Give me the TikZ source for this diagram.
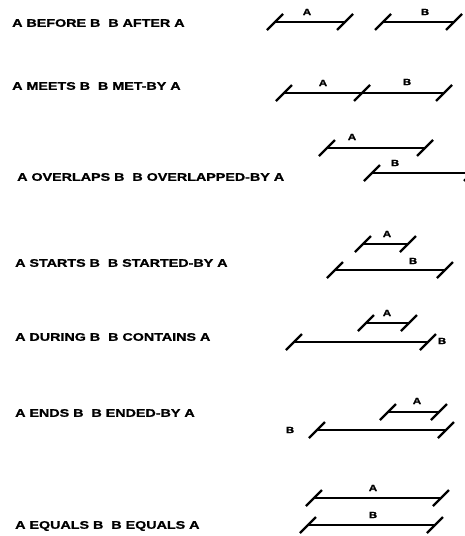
\documentclass[tikz,border=0pt]{standalone}
\usepackage{fontspec}
\newfontfamily\relfont[FakeStretch=1.3,FakeBold=1.2]{Liberation Sans}
\usepackage{tikz}
\usetikzlibrary{arrows.meta}

\begin{document}
\begin{tikzpicture}[
    x=1pt, y=-1pt,
    bar/.style={line width=1.5pt},
    tick/.style={line width=2.2pt},
    rel/.style={anchor=west, inner sep=0pt, font=\relfont\bfseries\fontsize{11}{12}\selectfont},
    tag/.style={inner sep=0pt, font=\relfont\bfseries\fontsize{9}{10}\selectfont}
  ]

  \useasboundingbox (0,0) rectangle (465,536);

  % 関係の名前
  \node[rel] (before)   at (12,23)  {A BEFORE B~~B AFTER A};
  \node[rel] (meets)    at (12,86)  {A MEETS B~~B MET-BY A};
  \node[rel] (overlaps) at (17,177) {A OVERLAPS B~~B OVERLAPPED-BY A};
  \node[rel] (starts)   at (15,263) {A STARTS B~~B STARTED-BY A};
  \node[rel] (during)   at (15,337) {A DURING B~~B CONTAINS A};
  \node[rel] (ends)     at (15,413) {A ENDS B~~B ENDED-BY A};
  \node[rel] (equals)   at (15,526) {A EQUALS B~~B EQUALS A};

  % 区間の端点
  \coordinate (bfA1) at (275,22);  \coordinate (bfA2) at (345,22);
  \coordinate (bfB1) at (383,22);  \coordinate (bfB2) at (454,22);

  \coordinate (mtA1) at (284,93);  \coordinate (mtAB) at (362,93);
  \coordinate (mtB2) at (444,93);

  \coordinate (ovA1) at (327,148); \coordinate (ovA2) at (425,148);
  \coordinate (ovB1) at (372,173); \coordinate (ovB2) at (472,173);

  \coordinate (stA1) at (363,244); \coordinate (stA2) at (408,244);
  \coordinate (stB1) at (335,270); \coordinate (stB2) at (445,270);

  \coordinate (duA1) at (366,323); \coordinate (duA2) at (409,323);
  \coordinate (duB1) at (294,342); \coordinate (duB2) at (428,342);

  \coordinate (enA1) at (388,412); \coordinate (enA2) at (439,412);
  \coordinate (enB1) at (317,430); \coordinate (enB2) at (446,430);

  \coordinate (eqA1) at (314,498); \coordinate (eqA2) at (441,498);
  \coordinate (eqB1) at (308,525); \coordinate (eqB2) at (435,525);

  % 区間の線
  \draw[bar] (bfA1) -- (bfA2);  \draw[bar] (bfB1) -- (bfB2);
  \draw[bar] (mtA1) -- (mtAB) -- (mtB2);
  \draw[bar] (ovA1) -- (ovA2);  \draw[bar] (ovB1) -- (ovB2);
  \draw[bar] (stA1) -- (stA2);  \draw[bar] (stB1) -- (stB2);
  \draw[bar] (duA1) -- (duA2);  \draw[bar] (duB1) -- (duB2);
  \draw[bar] (enA1) -- (enA2);  \draw[bar] (enB1) -- (enB2);
  \draw[bar] (eqA1) -- (eqA2);  \draw[bar] (eqB1) -- (eqB2);

  % 端の斜線
  \foreach \p in {bfA1,bfA2,bfB1,bfB2,mtA1,mtAB,mtB2,
                  ovA1,ovA2,ovB1,ovB2,stA1,stA2,stB1,stB2,
                  duA1,duA2,duB1,duB2,enA1,enA2,enB1,enB2,
                  eqA1,eqA2,eqB1,eqB2}
    \draw[tick] ([shift={(-8,8)}]\p) -- ([shift={(8,-8)}]\p);

  % 区間の名前
  \node[tag] (bfA) at (307,12)  {A};  \node[tag] (bfB) at (425,12)  {B};
  \node[tag] (mtA) at (323,83)  {A};  \node[tag] (mtB) at (407,82)  {B};
  \node[tag] (ovA) at (352,137) {A};  \node[tag] (ovB) at (395,163) {B};
  \node[tag] (stA) at (387,234) {A};  \node[tag] (stB) at (413,261) {B};
  \node[tag] (duA) at (387,313) {A};  \node[tag] (duB) at (442,341) {B};
  \node[tag] (enA) at (417,401) {A};  \node[tag] (enB) at (290,430) {B};
  \node[tag] (eqA) at (373,488) {A};  \node[tag] (eqB) at (373,515) {B};

\end{tikzpicture}
\end{document}
